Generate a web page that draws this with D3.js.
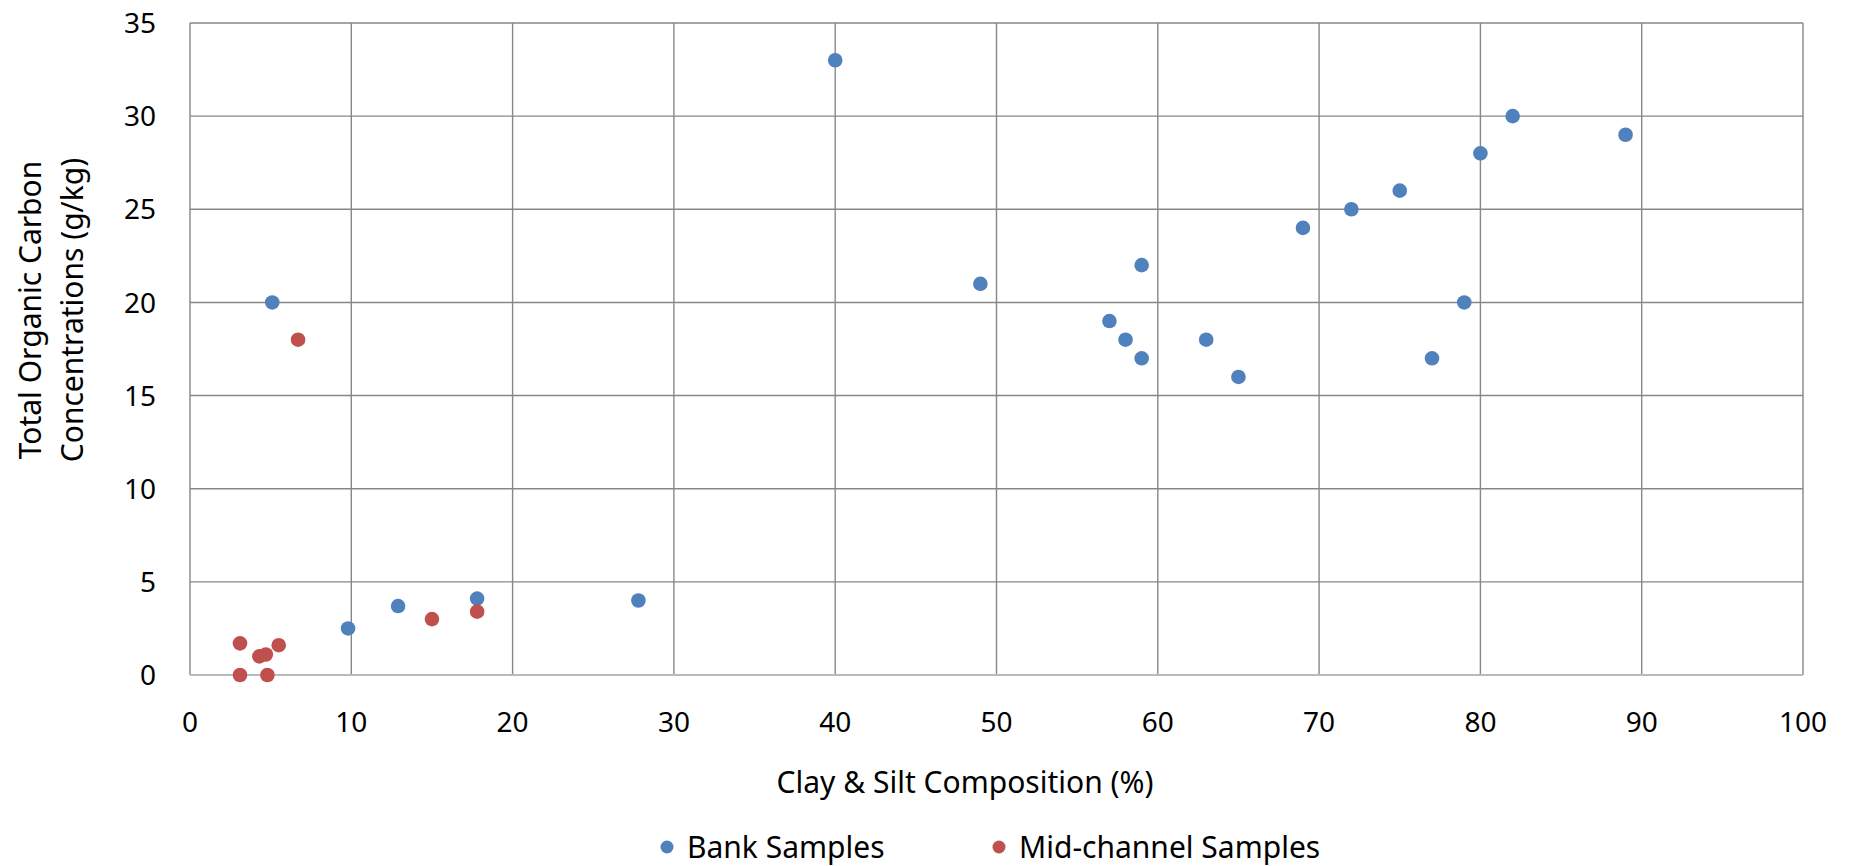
<!DOCTYPE html>
<html>
<head>
<meta charset="utf-8">
<script src="https://cdn.jsdelivr.net/npm/d3@7"></script>
<style>
  body { margin: 0; background: #fff; }
  svg text { font-family: "Noto Sans", "Open Sans", sans-serif; fill: #000; }
</style>
</head>
<body>
<svg id="chart" width="1849" height="866"></svg>
<script>
// Bank samples (clay & silt %, TOC g/kg)
const bankX = [5.1, 9.8, 12.9, 17.8, 27.8, 40, 49, 57, 58, 59, 59, 63, 65, 69, 72, 75, 77, 79, 80, 82, 89];
const bankY = [20, 2.5, 3.7, 4.1, 4.0, 33, 21, 19, 18, 22, 17, 18, 16, 24, 25, 26, 17, 20, 28, 30, 29];

// Mid-channel samples
const midX = [3.1, 3.1, 4.8, 4.3, 4.7, 5.5, 6.7, 15.0, 17.8];
const midY = [1.7, 0, 0, 1.0, 1.1, 1.6, 18, 3.0, 3.4];

const xTicks = [0, 10, 20, 30, 40, 50, 60, 70, 80, 90, 100];
const yTicks = [0, 5, 10, 15, 20, 25, 30, 35];

const seriesNames = ["Bank Samples", "Mid-channel Samples"];
const seriesColors = ["#4f81bd", "#c0504d"];

const svg = d3.select("svg#chart");

const plotLeft = 190, plotRight = 1803, plotTop = 23, plotBottom = 675;

const scaleX = d3.scaleLinear().domain([0, 100]).range([plotLeft, plotRight]);
const scaleY = d3.scaleLinear().domain([0, 35]).range([plotBottom, plotTop]);

// сетка
svg.append("g")
    .selectAll("line")
    .data(yTicks.filter(d => d > 0))
    .join("line")
    .attr("x1", plotLeft).attr("x2", plotRight)
    .attr("y1", d => scaleY(d)).attr("y2", d => scaleY(d))
    .style("stroke", "#878787").style("stroke-width", 1.4);

svg.append("g")
    .selectAll("line")
    .data(xTicks)
    .join("line")
    .attr("x1", d => scaleX(d)).attr("x2", d => scaleX(d))
    .attr("y1", plotTop).attr("y2", plotBottom)
    .style("stroke", "#878787").style("stroke-width", 1.4);

// нижняя ось, светлее сетки
svg.append("line")
    .attr("x1", plotLeft).attr("x2", plotRight)
    .attr("y1", plotBottom).attr("y2", plotBottom)
    .style("stroke", "#bababa").style("stroke-width", 2.2);

// подписи делений
svg.append("g")
    .selectAll("text")
    .data(yTicks)
    .join("text")
    .attr("x", 156)
    .attr("y", d => scaleY(d))
    .attr("dy", "0.36em")
    .attr("text-anchor", "end")
    .style("font-size", "28px")
    .text(d => d);

svg.append("g")
    .selectAll("text")
    .data(xTicks)
    .join("text")
    .attr("x", d => scaleX(d))
    .attr("y", 722)
    .attr("dy", "0.36em")
    .attr("text-anchor", "middle")
    .style("font-size", "28px")
    .text(d => d);

// названия осей
svg.append("text")
    .attr("x", 965)
    .attr("y", 782)
    .attr("dy", "0.35em")
    .attr("text-anchor", "middle")
    .style("font-size", "30px")
    .text("Clay & Silt Composition (%)");

const yTitle = svg.append("text")
    .attr("transform", "translate(0, 310) rotate(-90)")
    .attr("text-anchor", "middle")
    .style("font-size", "30px");
yTitle.append("tspan").attr("x", 0).attr("y", 30).attr("dy", "0.35em").text("Total Organic Carbon");
yTitle.append("tspan").attr("x", 0).attr("y", 72).attr("dy", "0.35em").text("Concentrations (g/kg)");

// точки
function drawSeries(xs, ys, color) {
    svg.append("g")
        .selectAll("circle")
        .data(xs.map((x, i) => ({x: x, y: ys[i]})))
        .join("circle")
        .attr("cx", d => scaleX(d.x))
        .attr("cy", d => scaleY(d.y))
        .attr("r", 7.3)
        .style("fill", color);
}
drawSeries(bankX, bankY, seriesColors[0]);
drawSeries(midX, midY, seriesColors[1]);

// легенда
const legendPos = [667, 999];
const legend = svg.append("g")
    .selectAll("g")
    .data(seriesNames)
    .join("g")
    .attr("transform", (d, i) => `translate(${legendPos[i]}, 847)`);
legend.append("circle")
    .attr("r", 6.5)
    .style("fill", (d, i) => seriesColors[i]);
legend.append("text")
    .attr("x", 20)
    .attr("dy", "0.35em")
    .style("font-size", "30px")
    .text(d => d);
</script>
</body>
</html>
